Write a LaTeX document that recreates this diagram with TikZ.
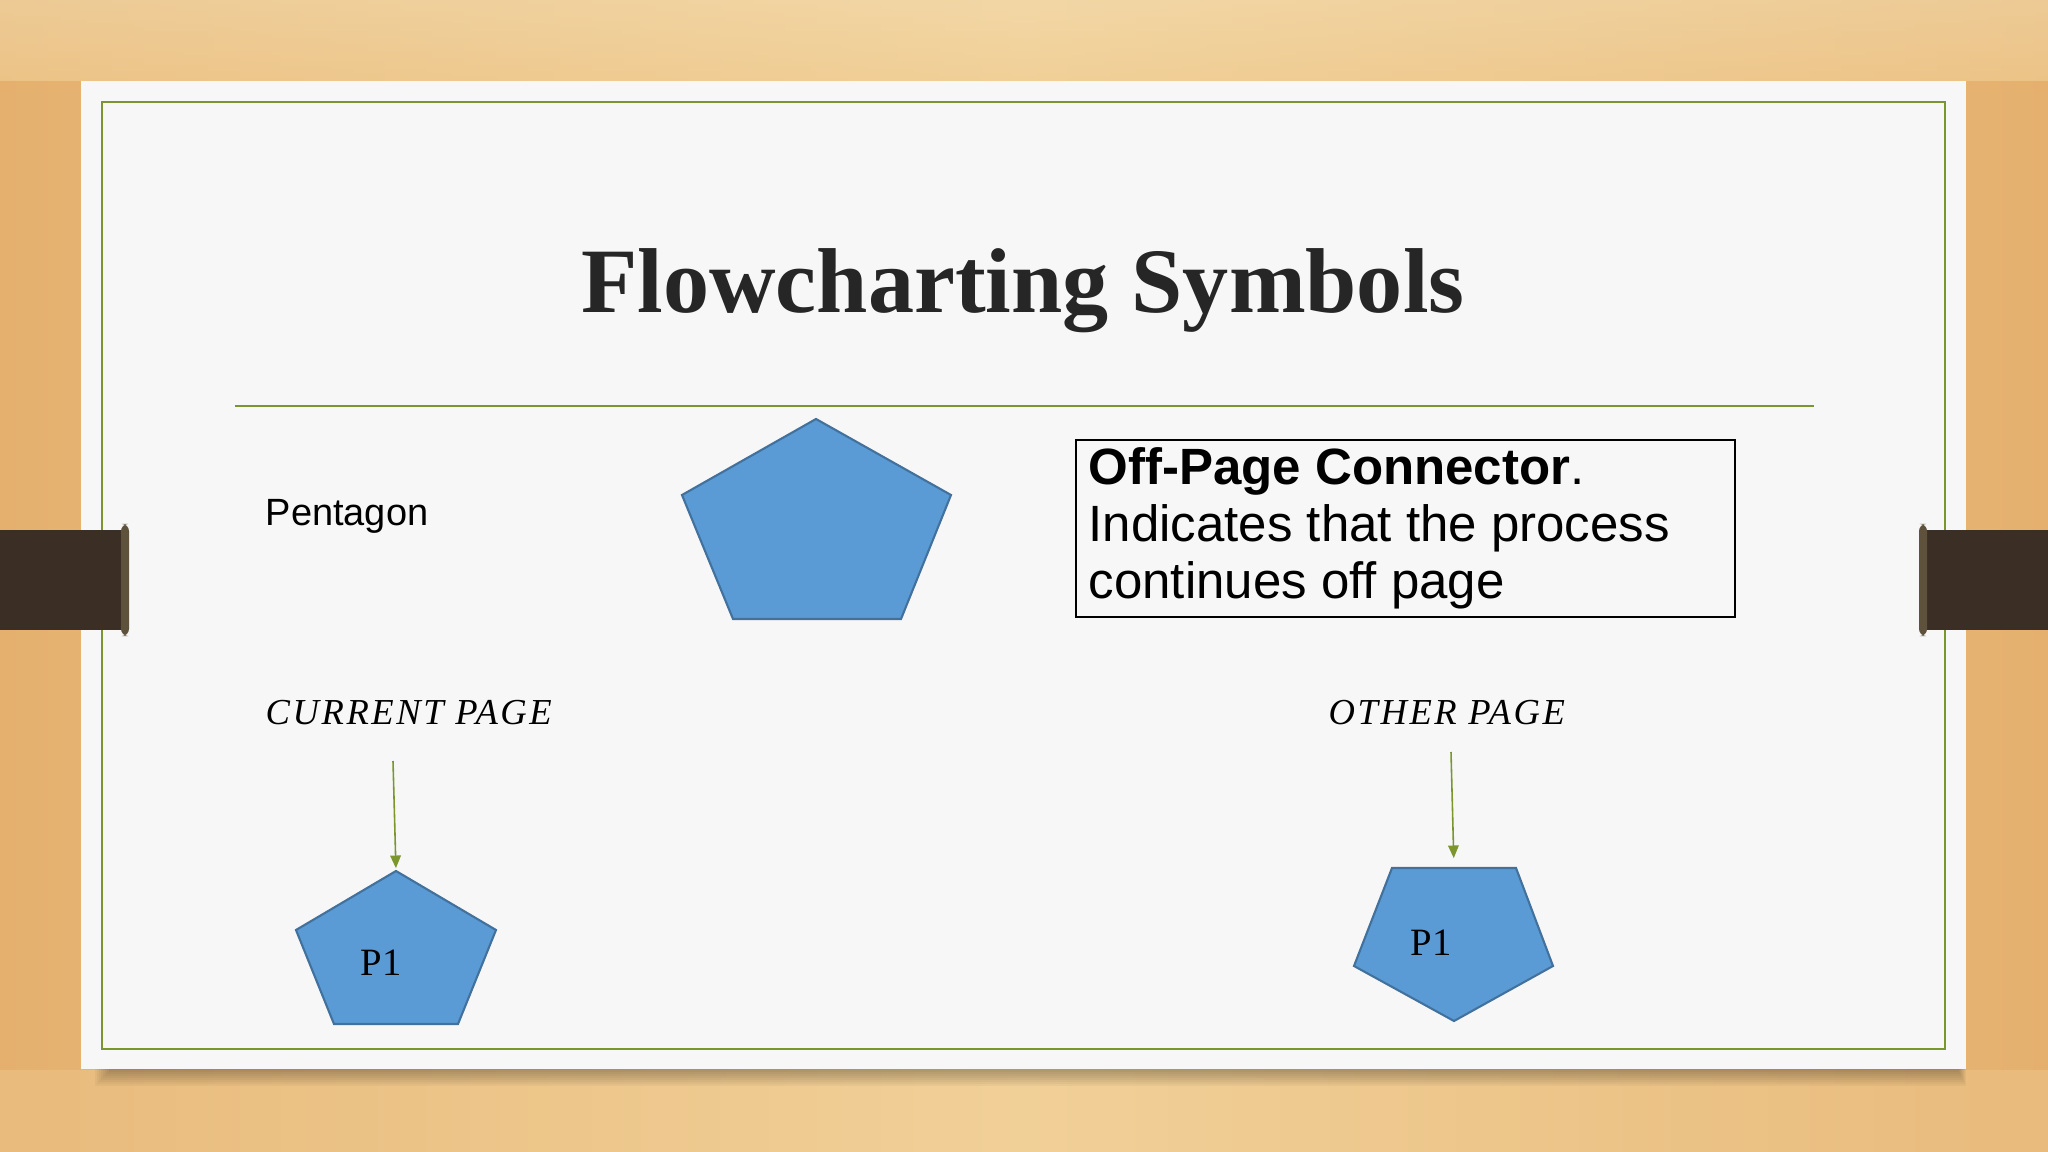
\documentclass[tikz,border=0pt]{standalone}
\usepackage{fontspec}
\setmainfont{Liberation Serif}
\setsansfont{Liberation Sans}
\usetikzlibrary{arrows.meta}
\definecolor{woodA}{RGB}{229,176,110}
\definecolor{woodB}{RGB}{241,208,152}
\definecolor{woodTop}{RGB}{243,220,175}
\definecolor{slidebg}{RGB}{247,247,247}
\definecolor{framegreen}{RGB}{122,150,44}
\definecolor{clipbrown}{RGB}{58,46,37}
\definecolor{clipedge}{RGB}{95,82,60}
\definecolor{pentfill}{RGB}{91,155,213}
\definecolor{pentline}{RGB}{65,113,156}
\definecolor{titlegray}{RGB}{38,38,38}
\tikzset{
  pent/.style={fill=pentfill, draw=pentline, line width=0.6pt, line join=miter},
  greenarrow/.style={draw=framegreen, line width=0.45pt, -{Triangle[width=3pt,length=3.6pt]}},
  serifital/.style={font=\fontsize{10.4pt}{12pt}\selectfont\itshape\addfontfeatures{LetterSpace=7}, text=black, inner sep=0pt},
  plabel/.style={font=\fontsize{11pt}{13pt}\selectfont, text=black, inner sep=0pt},
}
\begin{document}
\begin{tikzpicture}[x=0.01cm,y=-0.01cm]
\useasboundingbox (0,0) rectangle (2048,1152);
% wood background
\shade[left color=woodA, right color=woodA, middle color=woodB] (0,0) rectangle (2048,1152);
\shade[top color=woodTop, bottom color=woodB, opacity=0.6] (0,0) rectangle (2048,81);
\fill[woodB, opacity=0.35] (0,1070) rectangle (2048,1152);
% slide shadow
\foreach \i in {0,...,7}{
  \fill[black, opacity=0.035] (95+2*\i,100) rectangle (1966-\i,1086-2*\i);
}
% slide
\fill[slidebg] (81,81) rectangle (1966,1069);
\draw[framegreen, line width=0.75pt] (102,102) rectangle (1945,1049);
% clips
\fill[clipbrown] (0,530) rectangle (127,630);
\fill[clipedge, rounded corners=2pt] (121,524) rectangle (129,636);
\fill[clipbrown] (1922,530) rectangle (2048,630);
\fill[clipedge, rounded corners=2pt] (1919,524) rectangle (1927,636);
% title
\node[font=\fontsize{26.2pt}{30pt}\selectfont\bfseries, text=titlegray, anchor=base, inner sep=0pt] (title) at (1023,313) {Flowcharting Symbols};
\draw[framegreen, line width=0.6pt] (235,406) -- (1814,406);
% pentagon label
\node[font=\sffamily\fontsize{10.8pt}{13pt}\selectfont, anchor=base west, inner sep=0pt] (pentlabel) at (265,525) {Pentagon};
% big pentagon
\coordinate (bigT) at (816,419);
\coordinate (bigR) at (951,495);
\coordinate (bigBR) at (901,619);
\coordinate (bigBL) at (733,619);
\coordinate (bigL) at (682,495);
\draw[pent] (bigT) -- (bigR) -- (bigBR) -- (bigBL) -- (bigL) -- cycle;
% off-page box
\node[draw=black, line width=0.6pt, minimum width=659*0.01cm, minimum height=177*0.01cm, anchor=north west, inner sep=0pt] (box) at (1075,439) {};
\node[font=\sffamily\fontsize{14.5pt}{16.2pt}\selectfont, anchor=base west, align=left, inner sep=0pt] (boxtext) at (1088,598) {{\bfseries Off-Page Connector}.\\Indicates that the process\\continues off page};
% page labels
\node[serifital, anchor=base west] (curpage) at (265,724) {CURRENT PAGE};
\node[serifital, anchor=base west] (othpage) at (1328,724) {OTHER PAGE};
% small pentagon 1
\coordinate (aT) at (396,871);
\coordinate (aR) at (496,930);
\coordinate (aBR) at (458,1024);
\coordinate (aBL) at (334,1024);
\coordinate (aL) at (296,930);
\draw[pent] (aT) -- (aR) -- (aBR) -- (aBL) -- (aL) -- cycle;
\node[plabel, anchor=base] (p1a) at (381,975) {P1};
\coordinate (arr1) at (393,761);
\draw[greenarrow, shorten >=0.8pt] (arr1) -- (aT);
% small pentagon 2 (inverted)
\coordinate (bTL) at (1392,868);
\coordinate (bTR) at (1516,868);
\coordinate (bR) at (1553,966);
\coordinate (bB) at (1454,1021);
\coordinate (bL) at (1354,966);
\coordinate (bTop) at (1454,868);
\draw[pent] (bTL) -- (bTR) -- (bR) -- (bB) -- (bL) -- cycle;
\node[plabel, anchor=base] (p1b) at (1431,955) {P1};
\coordinate (arr2) at (1451,752);
\draw[greenarrow, shorten >=2.8pt] (arr2) -- (bTop);
\end{tikzpicture}
\end{document}
